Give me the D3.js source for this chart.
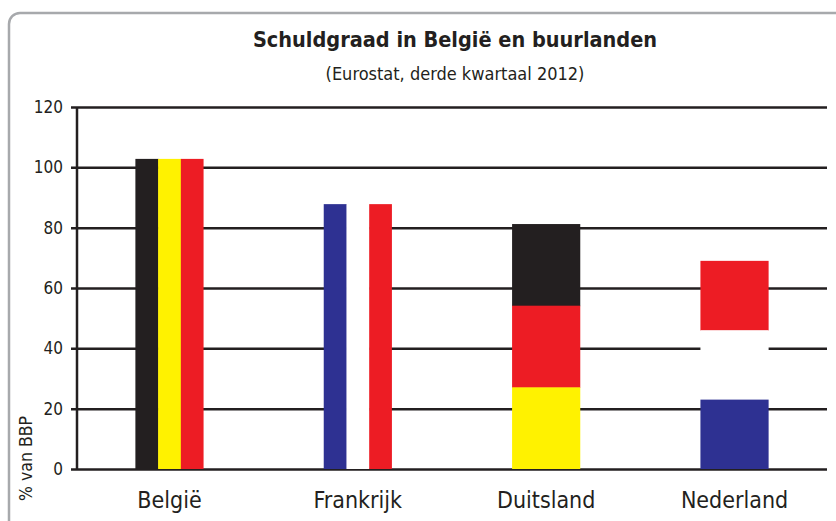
<!DOCTYPE html>
<html>
<head>
<meta charset="utf-8">
<script src="https://cdn.jsdelivr.net/npm/d3@7"></script>
<style>
  body { margin: 0; background: #fff; }
  text { font-family: "DejaVu Sans Condensed", "DejaVu Sans", sans-serif; fill: #231f20; }
</style>
</head>
<body>
<div id="chart"></div>
<script>
// data
var countries = ["België", "Frankrijk", "Duitsland", "Nederland"];
var debt = [102.8, 87.8, 81.2, 69.0];
var yTicks = [0, 20, 40, 60, 80, 100, 120];

// flag colours, stripes listed left->right or top->bottom
var flags = {
  "België":    { dir: "v", colors: ["#231f20", "#fff200", "#ed1c24"] },
  "Frankrijk": { dir: "v", colors: ["#2e3192", "#ffffff", "#ed1c24"] },
  "Duitsland": { dir: "h", colors: ["#231f20", "#ed1c24", "#fff200"] },
  "Nederland": { dir: "h", colors: ["#ed1c24", "#ffffff", "#2e3192"] }
};

var width = 836, height = 521;
var svg = d3.select("#chart").append("svg")
    .attr("width", width)
    .attr("height", height);

// frame
svg.append("rect")
    .attr("x", 9).attr("y", 13)
    .attr("width", 900).attr("height", 600)
    .attr("rx", 11)
    .attr("fill", "none")
    .attr("stroke", "#a7a9ac")
    .attr("stroke-width", 2.5);

var x = d3.scaleBand()
    .domain(countries)
    .range([77, 827])
    .paddingInner(0.638)
    .paddingOuter(0.31);

var y = d3.scaleLinear()
    .domain([0, 120])
    .range([469, 107]);

// gridlines + tick labels
var yAxis = svg.append("g")
    .attr("transform", "translate(71,0)")
    .call(d3.axisLeft(y).tickValues(yTicks).tickSize(-(827 - 71)).tickPadding(8));
yAxis.select(".domain").remove();
yAxis.selectAll(".tick line").attr("stroke", "#231f20").attr("stroke-width", 2.5);
yAxis.selectAll(".tick text").attr("font-size", 17).attr("font-family", null);

svg.append("line")
    .attr("x1", 77).attr("x2", 77)
    .attr("y1", y(120)).attr("y2", y(0))
    .attr("stroke", "#231f20").attr("stroke-width", 2.5);

// flag bars
countries.forEach(function(c, i) {
  var f = flags[c];
  var x0 = x(c), bw = x.bandwidth();
  var top = y(debt[i]), h = y(0) - top;
  f.colors.forEach(function(col, j) {
    var r = svg.append("rect").attr("fill", col);
    if (f.dir == "v") {
      r.attr("x", x0 + j * bw / 3).attr("y", top)
       .attr("width", bw / 3 + (j < 2 ? 0.5 : 0)).attr("height", h);
    } else {
      r.attr("x", x0).attr("y", top + j * h / 3)
       .attr("width", bw).attr("height", h / 3 + (j < 2 ? 0.5 : 0));
    }
  });
});

// category labels
svg.selectAll(".cat")
    .data(countries)
  .enter().append("text")
    .attr("class", "cat")
    .attr("x", function(d) { return x(d) + x.bandwidth() / 2; })
    .attr("y", 508)
    .attr("text-anchor", "middle")
    .attr("font-size", 23)
    .text(function(d) { return d; });

// y label
svg.append("text")
    .attr("transform", "translate(32,501) rotate(-90)")
    .attr("font-size", 17.5)
    .text("% van BBP");

// titles
svg.append("text")
    .attr("x", 455).attr("y", 47)
    .attr("text-anchor", "middle")
    .attr("font-size", 21.5)
    .attr("font-weight", "bold")
    .text("Schuldgraad in België en buurlanden");

svg.append("text")
    .attr("x", 455).attr("y", 80)
    .attr("text-anchor", "middle")
    .attr("font-size", 18)
    .text("(Eurostat, derde kwartaal 2012)");
</script>
</body>
</html>
